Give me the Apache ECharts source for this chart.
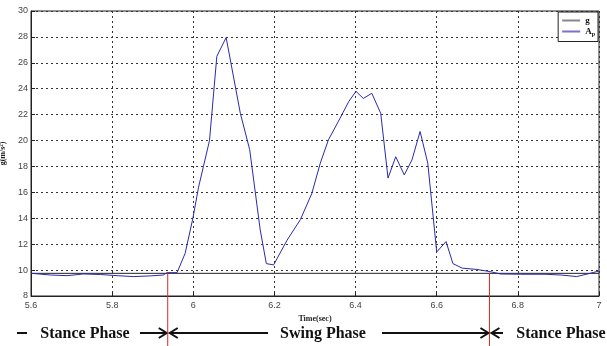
<!DOCTYPE html>
<html>
<head>
<meta charset="utf-8">
<script src="https://cdn.jsdelivr.net/npm/echarts@6/dist/echarts.min.js"></script>
<style>
  html, body { margin: 0; padding: 0; background: #fff; }
  #chart { width: 607px; height: 346px; }
</style>
</head>
<body>
<div id="chart"></div>
<script>
const timeSec = [5.601, 5.648, 5.689, 5.729, 5.771, 5.812, 5.852, 5.894, 5.926, 5.935, 5.960, 5.980, 5.999, 6.013, 6.025, 6.040, 6.058, 6.081, 6.116, 6.139, 6.165, 6.180, 6.198, 6.231, 6.264, 6.292, 6.313, 6.333, 6.358, 6.383, 6.401, 6.419, 6.440, 6.462, 6.480, 6.499, 6.520, 6.539, 6.559, 6.578, 6.600, 6.623, 6.640, 6.663, 6.699, 6.732, 6.757, 6.806, 6.867, 6.906, 6.945, 6.978, 7.000];
const accAp = [9.75, 9.62, 9.57, 9.70, 9.66, 9.57, 9.50, 9.55, 9.62, 9.80, 9.80, 11.3, 14.0, 16.4, 18.0, 20.0, 26.5, 27.95, 22.1, 19.3, 13.1, 10.5, 10.4, 12.3, 13.9, 15.9, 18.25, 20.05, 21.5, 23.0, 23.8, 23.25, 23.65, 22.1, 17.1, 18.75, 17.35, 18.5, 20.7, 18.25, 11.4, 12.2, 10.5, 10.15, 10.05, 9.88, 9.70, 9.68, 9.68, 9.62, 9.50, 9.75, 9.93];
const gRange = [5.6, 7];
const gValue = 9.75;
const phaseBounds = [5.937, 6.730];
const phaseNames = ['Stance Phase', 'Swing Phase', 'Stance Phase'];

const chart = echarts.init(document.getElementById('chart'), null, { renderer: 'canvas' });

const gridLine = { show: true, lineStyle: { color: '#333', type: [2, 3], width: 1 } };
const tickLabel = { color: '#444', fontSize: 9, fontFamily: 'Liberation Sans' };
const nameFont = { color: '#222', fontSize: 8, fontWeight: 'bold', fontFamily: 'Liberation Serif' };

chart.setOption({
  animation: false,
  backgroundColor: '#fff',
  grid: {
    left: 31, right: 8, top: 11, bottom: 50,
    outerBoundsMode: 'none', containLabel: false,
    show: true, borderColor: '#222', borderWidth: 1
  },
  legend: {
    orient: 'vertical',
    right: 9,
    top: 12,
    itemWidth: 18,
    itemHeight: 2,
    itemGap: 2,
    icon: 'rect',
    padding: [4, 3, 4, 4],
    borderColor: '#222',
    borderWidth: 1,
    backgroundColor: '#fff',
    data: [
      { name: 'g', itemStyle: { color: '#888' } },
      { name: 'Ap', itemStyle: { color: '#7b6fd0' } }
    ],
    formatter: name => name === 'Ap' ? '{b|A}{s|p}' : '{b|g}',
    textStyle: {
      rich: {
        b: { fontSize: 9, fontWeight: 'bold', fontFamily: 'Liberation Serif', color: '#111' },
        s: { fontSize: 6, fontWeight: 'bold', fontFamily: 'Liberation Serif', color: '#111', padding: [6, 0, 0, 0] }
      }
    }
  },
  xAxis: {
    type: 'value',
    min: 5.6,
    max: 7,
    interval: 0.2,
    name: 'Time(sec)',
    nameLocation: 'middle',
    nameGap: 15,
    nameTextStyle: nameFont,
    axisLine: { lineStyle: { color: '#222' } },
    axisTick: { inside: true, length: 4, lineStyle: { color: '#222' } },
    axisLabel: Object.assign({ margin: 5 }, tickLabel),
    splitLine: gridLine
  },
  yAxis: {
    type: 'value',
    min: 8,
    max: 30,
    interval: 2,
    name: 'g(m/s\u00b2)',
    nameLocation: 'middle',
    nameGap: 22,
    nameTextStyle: nameFont,
    axisLine: { show: true, lineStyle: { color: '#222' } },
    axisTick: { show: true, inside: true, length: 4, lineStyle: { color: '#222' } },
    axisLabel: Object.assign({ margin: 3 }, tickLabel),
    splitLine: gridLine
  },
  series: [
    {
      name: 'g',
      type: 'line',
      data: gRange.map(t => [t, gValue]),
      symbol: 'none',
      lineStyle: { color: '#222', width: 1 },
      itemStyle: { color: '#222' }
    },
    {
      name: 'Ap',
      type: 'line',
      data: timeSec.map((t, i) => [t, accAp[i]]),
      symbol: 'none',
      lineStyle: { color: '#2a2ab0', width: 1 },
      itemStyle: { color: '#2a2ab0' }
    }
  ]
});

// phase annotations under the axes
const rowY = 333;
const xb = phaseBounds.map(t => chart.convertToPixel({ xAxisIndex: 0 }, t));
const redTop = phaseBounds.map(t => chart.convertToPixel({ yAxisIndex: 0 }, 9.8));

const stroke = { stroke: '#111', lineWidth: 2 };
function seg(x1, x2) {
  return { type: 'line', shape: { x1: x1, y1: rowY, x2: x2, y2: rowY }, style: stroke };
}
function head(x, dir) {
  return {
    type: 'polyline',
    shape: { points: [[x - dir * 8, rowY - 5], [x, rowY], [x - dir * 8, rowY + 5]] },
    style: { stroke: '#111', lineWidth: 2, fill: null }
  };
}
function label(text, cx) {
  return {
    type: 'text',
    style: {
      text: text, x: cx, y: rowY + 1, align: 'center', verticalAlign: 'middle',
      font: 'bold 16px "Liberation Serif"', fill: '#111'
    }
  };
}

const graphics = [];
xb.forEach((x, i) => {
  graphics.push({
    type: 'line',
    shape: { x1: x, y1: redTop[i], x2: x, y2: 346 },
    style: { stroke: '#d42a2a', lineWidth: 1 },
    z: 10
  });
});
graphics.push(seg(17, 27));
graphics.push(label(phaseNames[0], 85));
graphics.push(seg(140, xb[0] - 2), head(xb[0] - 1, 1));
graphics.push(seg(xb[0] + 2, 268), head(xb[0] + 2, -1));
graphics.push(label(phaseNames[1], 323));
graphics.push(seg(382, xb[1] - 2), head(xb[1] - 1, 1));
graphics.push(seg(xb[1] + 2, 503), head(xb[1] + 2, -1));
graphics.push(label(phaseNames[2], 561));

chart.setOption({ graphic: graphics });
</script>
</body>
</html>
